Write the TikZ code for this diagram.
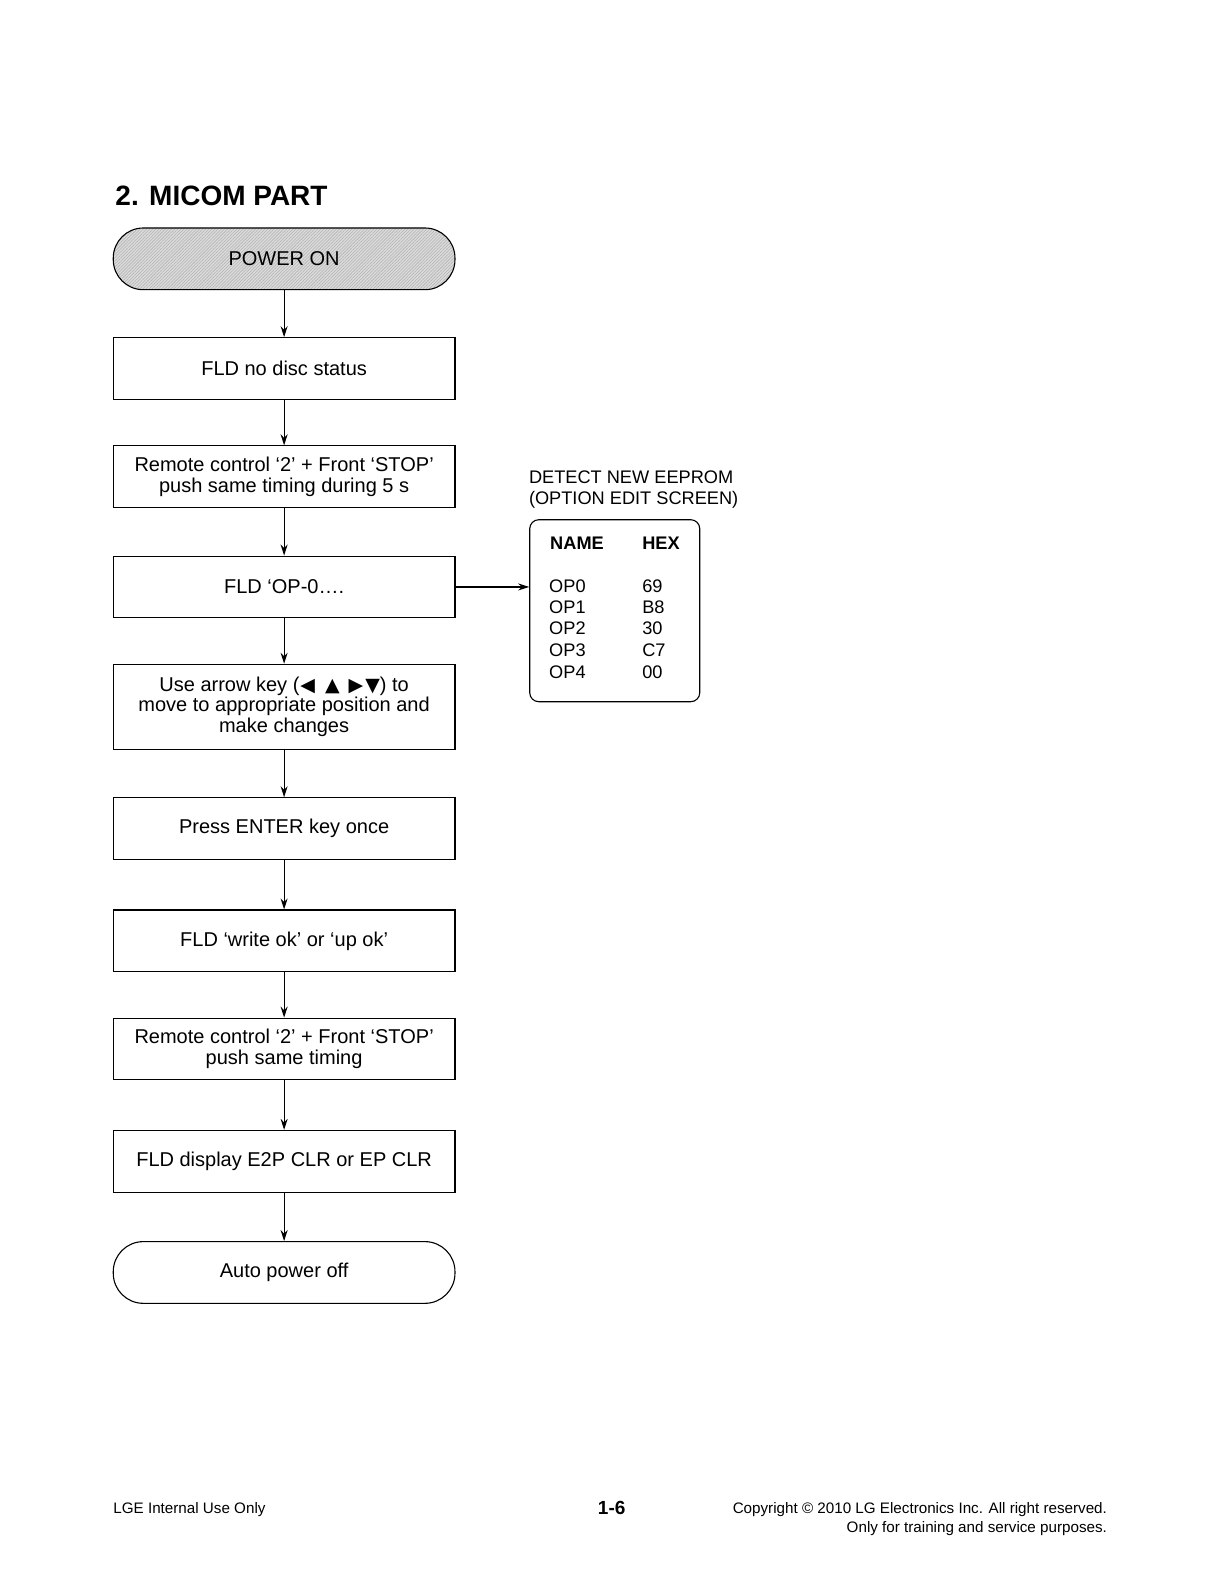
\documentclass[tikz,border=0pt]{standalone}
\usepackage{fontspec}
\setmainfont{Liberation Sans}
\newfontfamily\symfont{DejaVu Sans}
\usetikzlibrary{arrows.meta,patterns.meta}
\begin{document}
\begin{tikzpicture}[x=1.0111pt,y=-1.0111pt,
  box/.style={draw, line width=1.1pt, minimum width=341.7pt, minimum height=61.7pt, align=center, font=\fontsize{20}{20.5}\selectfont, inner sep=0pt},
  term/.style={box, rounded corners=30pt},
  flow/.style={draw, line width=1.2pt, -{Stealth[length=11pt,width=7pt]}},
  side/.style={font=\fontsize{18.2}{20}\selectfont, anchor=base west, inner sep=0pt}
]
\useasboundingbox (0,0) rectangle (1204.6,1568.6);
\node[anchor=base west, inner sep=0pt, font=\fontsize{28}{30}\selectfont\bfseries] (title) at (114,203) {2. MICOM PART};

\node[term, preaction={fill=gray!28}, pattern={Lines[angle=45,distance=2.2pt,line width=0.55pt]}, pattern color=gray!60] (n0) at (281,256) {};
\node[font=\fontsize{20}{20.5}\selectfont, inner sep=0pt] (n0t) at (n0.center) {POWER ON};
\node[box] (n1) at (281,364.5) {FLD no disc status};
\node[box] (n2) at (281,471.5) {Remote control `2' + Front `STOP'\\push same timing during 5 s};
\node[box] (n3) at (281,580.5) {FLD `OP-0\ldots.};
\node[box, minimum height=85pt] (n4) at (281,699) {Use arrow key ({\symfont\fontsize{19}{18}\selectfont\hspace{1pt}◀\hspace{10pt}▲\hspace{9pt}▶\hspace{2pt}▼}) to\\move to appropriate position and\\make changes};
\node[box] (n5) at (281,819.5) {Press ENTER key once};
\node[box] (n6) at (281,930.5) {FLD `write ok' or `up ok'};
\node[box] (n7) at (281,1037.5) {Remote control `2' + Front `STOP'\\push same timing};
\node[box] (n8) at (281,1148.5) {FLD display E2P CLR or EP CLR};
\node[term] (n9) at (281,1258.5) {Auto power off};

\draw[flow] (n0) -- (n1);
\draw[flow] (n1) -- (n2);
\draw[flow] (n2) -- (n3);
\draw[flow] (n3) -- (n4);
\draw[flow] (n4) -- (n5);
\draw[flow] (n5) -- (n6);
\draw[flow] (n6) -- (n7);
\draw[flow] (n7) -- (n8);
\draw[flow] (n8) -- (n9);

\node[side] (d1) at (523,478) {DETECT NEW EEPROM};
\node[side] (d2) at (523,499) {(OPTION EDIT SCREEN)};
\node[draw, line width=1.1pt, rounded corners=9pt, minimum width=170pt, minimum height=182pt, inner sep=0pt] (tab) at (608,604) {};
\draw[flow] (n3.east) -- (tab.west |- n3.east);
\node[side, font=\fontsize{18.2}{20}\selectfont\bfseries] (h1) at (544,543) {NAME};
\node[side, font=\fontsize{18.2}{20}\selectfont\bfseries] (h2) at (635,543) {HEX};
\node[side] (o0) at (543,586) {OP0};
\node[side] (o1) at (543,607) {OP1};
\node[side] (o2) at (543,628) {OP2};
\node[side] (o3) at (543,649) {OP3};
\node[side] (o4) at (543,671) {OP4};
\node[side] (v0) at (635,586) {69};
\node[side] (v1) at (635,607) {B8};
\node[side] (v2) at (635,628) {30};
\node[side] (v3) at (635,649) {C7};
\node[side] (v4) at (635,671) {00};

\node[anchor=base west, inner sep=0pt, font=\fontsize{15.2}{16}\selectfont] (f1) at (112,1497) {LGE Internal Use Only};
\node[anchor=base, inner sep=0pt, font=\fontsize{19}{20}\selectfont\bfseries] (f2) at (605,1498) {1-6};
\node[anchor=base east, inner sep=0pt, font=\fontsize{15.2}{16}\selectfont] (f3) at (1095,1497) {Copyright © 2010 LG Electronics Inc. All right reserved.};
\node[anchor=base east, inner sep=0pt, font=\fontsize{15.2}{16}\selectfont] (f4) at (1095,1516) {Only for training and service purposes.};
\end{tikzpicture}
\end{document}
